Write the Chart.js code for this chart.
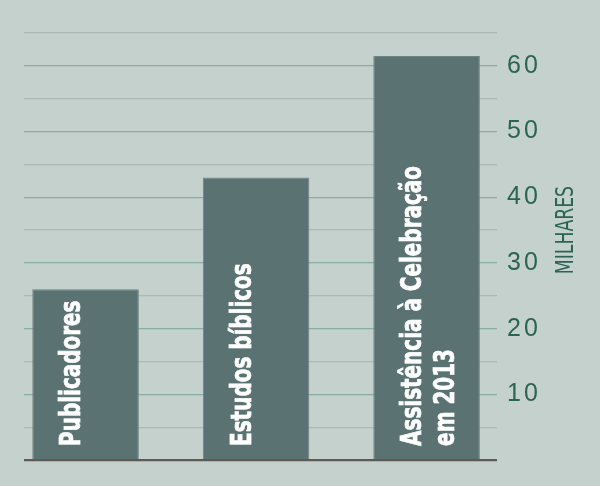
<!DOCTYPE html>
<html>
<head>
<meta charset="utf-8">
<script src="https://cdn.jsdelivr.net/npm/chart.js@4"></script>
<style>
  html, body { margin: 0; padding: 0; background: #c5d1cc; }
  #wrap { width: 600px; height: 486px; }
</style>
</head>
<body>
<div id="wrap"><canvas id="chart"></canvas></div>
<script>
  // data (thousands)
  const categories = [
    ['Publicadores'],
    ['Estudos bíblicos'],
    ['Assistência à Celebração', 'em 2013'],
  ];
  const values = [26, 43, 61.5];
  const tickLabels = [10, 20, 30, 40, 50, 60];
  const axisTitle = 'MILHARES';

  const inkGreen = '#2b6453';

  // labels written up inside each bar
  const barLabels = {
    id: 'barLabels',
    beforeDraw(chart) {
      chart.ctx.letterSpacing = '3px';
    },
    beforeDatasetsDraw(chart) {
      chart.ctx.letterSpacing = '0px';
    },
    afterDatasetsDraw(chart) {
      const ctx = chart.ctx;
      const meta = chart.getDatasetMeta(0);
      meta.data.forEach((bar, i) => {
        const left = bar.x - bar.width / 2;
        categories[i].forEach((line, j) => {
          ctx.save();
          ctx.translate(left + 48 + j * 33, bar.base - 13);
          ctx.rotate(-Math.PI / 2);
          ctx.scale(0.765, 1);
          ctx.font = 'bold 29px "Liberation Sans Narrow", "DejaVu Sans Condensed", sans-serif';
          ctx.fillStyle = '#ffffff';
          ctx.strokeStyle = '#ffffff';
          ctx.lineWidth = 0.7;
          ctx.textAlign = 'left';
          ctx.textBaseline = 'alphabetic';
          ctx.fillText(line, 0, 0);
          ctx.strokeText(line, 0, 0);
          ctx.restore();
        });
      });

      // axis title, reading bottom to top
      const y = chart.scales.y;
      ctx.save();
      ctx.translate(y.right - 27, y.getPixelForValue(35));
      ctx.rotate(-Math.PI / 2);
      ctx.scale(0.8, 1);
      ctx.font = '24px "Liberation Sans Narrow", "DejaVu Sans Condensed", sans-serif';
      ctx.fillStyle = inkGreen;
      ctx.textAlign = 'center';
      ctx.textBaseline = 'alphabetic';
      ctx.fillText(axisTitle, 0, 0);
      ctx.restore();
    }
  };

  const ctx = document.getElementById('chart').getContext('2d');
  new Chart(ctx, {
    type: 'bar',
    data: {
      datasets: [{
        data: values.map((v, i) => ({ x: i, y: v })),
        backgroundColor: '#5a7372',
        borderColor: '#6d8482',
        borderWidth: 1,
        borderSkipped: 'bottom',
        barPercentage: 0.625,
        categoryPercentage: 1,
      }]
    },
    options: {
      responsive: true,
      maintainAspectRatio: false,
      animation: false,
      layout: { padding: { left: 24, top: 33, bottom: 26, right: 0 } },
      plugins: {
        legend: { display: false },
        tooltip: { enabled: false },
      },
      scales: {
        x: {
          type: 'linear',
          min: -0.361,
          max: 2.413,
          offset: false,
          display: false,
          // one tick per bar so the bar width comes from the bar spacing
          afterBuildTicks(scale) {
            scale.ticks = values.map((v, i) => ({ value: i }));
          },
        },
        y: {
          position: 'right',
          min: 0,
          max: 65,
          border: { display: false },
          grid: {
            drawTicks: false,
            color: (c) => {
              const v = c.tick.value;
              if (v === 0) return '#5e5956';
              return v % 10 === 0 ? '#8aada3' : '#afb9b3';
            },
            lineWidth: (c) => (c.tick.value === 0 ? 2.2 : 1.3),
          },
          ticks: {
            stepSize: 5,
            autoSkip: false,
            padding: 10,
            color: inkGreen,
            font: { family: '"Liberation Sans", Arial, sans-serif', size: 25 },
            callback: (v) => (tickLabels.includes(v) ? String(v) : ''),
          },
          afterFit(scale) {
            scale.width = 103;
          },
        },
      },
    },
    plugins: [barLabels],
  });
</script>
</body>
</html>
